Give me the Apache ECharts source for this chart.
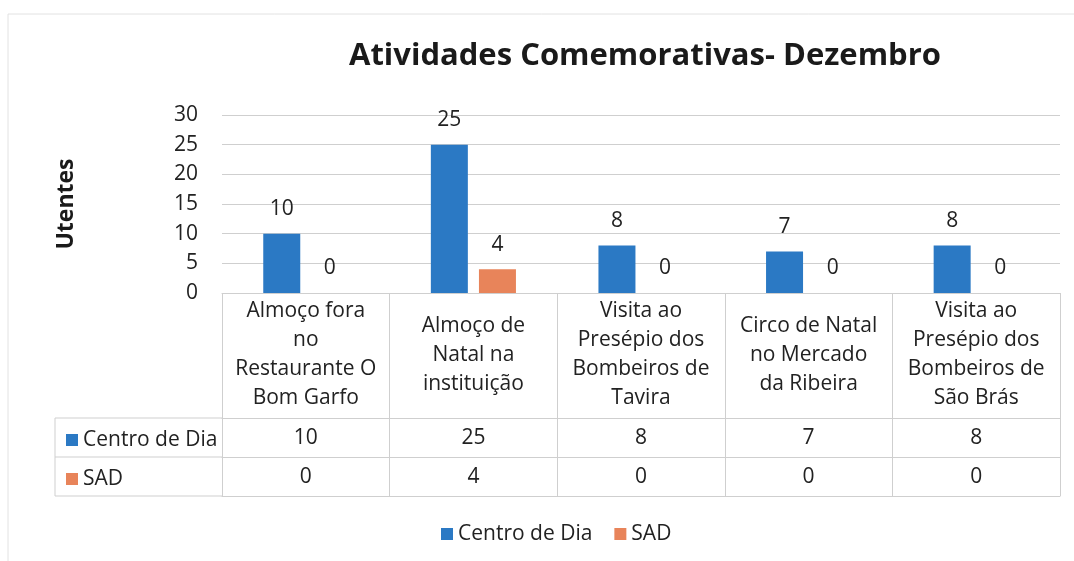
<!DOCTYPE html>
<html>
<head>
<meta charset="utf-8">
<title>Atividades Comemorativas- Dezembro</title>
<script src="https://cdn.jsdelivr.net/npm/echarts@6/dist/echarts.min.js"></script>
<style>
  html, body { margin: 0; padding: 0; background: #fff; }
  #chart { width: 1074px; height: 561px; }
</style>
</head>
<body>
<div id="chart"></div>
<script>
// categorias (com quebras de linha como no Excel)
const categories = [
  'Almoço fora\nno\nRestaurante O\nBom Garfo',
  'Almoço de\nNatal na\ninstituição',
  'Visita ao\nPresépio dos\nBombeiros de\nTavira',
  'Circo de Natal\nno Mercado\nda Ribeira',
  'Visita ao\nPresépio dos\nBombeiros de\nSão Brás'
]
const seriesNames = ['Centro de Dia', 'SAD']
const centroDia = [10, 25, 8, 7, 8]
const sad = [0, 4, 0, 0, 0]
const yTicks = { min: 0, max: 30, interval: 5 }

const BLUE = '#2b79c4'
const ORANGE = '#e8845a'
const LINE = '#cfcfcf'
const FONT = "'Open Sans', 'Noto Sans', sans-serif"
const FS = 21

const chart = echarts.init(document.getElementById('chart'))

// linhas da tabela de dados: um eixo extra por linha
const tableRowAxis = (offset, values) => ({
  type: 'category',
  data: categories,
  gridIndex: 0,
  position: 'bottom',
  offset: offset,
  axisLine: { show: true, lineStyle: { color: LINE, width: 1 } },
  axisTick: { show: false },
  axisLabel: {
    show: values !== null,
    interval: 0,
    margin: 20,
    verticalAlign: 'middle',
    fontFamily: FONT,
    fontSize: FS,
    color: '#222',
    formatter: (v, i) => values ? String(values[i]) : ''
  }
})

const option = {
  animation: false,
  color: [BLUE, ORANGE],
  textStyle: { fontFamily: FONT },
  title: {
    text: 'Atividades Comemorativas- Dezembro',
    left: 344,
    top: 36,
    textStyle: { fontFamily: FONT, fontSize: 31, fontWeight: 'bold', color: '#1a1a1a' }
  },
  legend: [
    {
      data: seriesNames,
      top: 517,
      left: 436,
      icon: 'rect',
      itemWidth: 12,
      itemHeight: 12,
      itemGap: 22,
      selectedMode: false,
      textStyle: { fontFamily: FONT, fontSize: FS, color: '#222', lineHeight: 24 }
    },
    {
      data: seriesNames,
      orient: 'vertical',
      left: 61,
      top: 423,
      icon: 'rect',
      itemWidth: 12,
      itemHeight: 12,
      itemGap: 15,
      selectedMode: false,
      textStyle: { fontFamily: FONT, fontSize: FS, color: '#222', lineHeight: 24 }
    }
  ],
  grid: {
    left: 222,
    right: 14,
    top: 115,
    bottom: 268,
    outerBoundsMode: 'none'
  },
  xAxis: [
    {
      type: 'category',
      data: categories,
      position: 'bottom',
      axisLine: { show: true, lineStyle: { color: LINE, width: 1 } },
      axisTick: { show: true, length: 203, interval: 0, lineStyle: { color: LINE, width: 1 } },
      axisLabel: {
        interval: 0,
        margin: 62,
        verticalAlign: 'middle',
        align: 'center',
        lineHeight: 29,
        fontFamily: FONT,
        fontSize: FS,
        color: '#222'
      }
    },
    tableRowAxis(125, centroDia),
    tableRowAxis(164, sad),
    tableRowAxis(203, null)
  ],
  yAxis: {
    type: 'value',
    min: yTicks.min,
    max: yTicks.max,
    interval: yTicks.interval,
    name: 'Utentes',
    nameLocation: 'middle',
    nameRotate: 90,
    nameGap: 144,
    nameTextStyle: { fontFamily: FONT, fontSize: 23, fontWeight: 'bold', color: '#1a1a1a' },
    axisLine: { show: false },
    axisTick: { show: false },
    axisLabel: { margin: 24, fontFamily: FONT, fontSize: FS, color: '#222' },
    splitLine: { lineStyle: { color: LINE, width: 1 } }
  },
  series: [
    {
      name: seriesNames[0],
      type: 'bar',
      data: centroDia,
      barWidth: 37,
      barGap: '30%',
      label: { show: true, position: 'top', distance: 14, fontFamily: FONT, fontSize: FS, color: '#222' }
    },
    {
      name: seriesNames[1],
      type: 'bar',
      data: sad,
      barWidth: 37,
      label: { show: true, position: 'top', distance: 14, fontFamily: FONT, fontSize: FS, color: '#222' }
    }
  ],
  graphic: [
    // moldura exterior do gráfico
    { type: 'rect', shape: { x: 8, y: 14, width: 1100, height: 600 }, style: { fill: 'none', stroke: '#e2e2e2', lineWidth: 1 } },
    // coluna de legenda da tabela
    { type: 'line', shape: { x1: 55, y1: 418, x2: 222, y2: 418 }, style: { stroke: LINE, lineWidth: 1 } },
    { type: 'line', shape: { x1: 55, y1: 457, x2: 222, y2: 457 }, style: { stroke: LINE, lineWidth: 1 } },
    { type: 'line', shape: { x1: 55, y1: 496, x2: 222, y2: 496 }, style: { stroke: LINE, lineWidth: 1 } },
    { type: 'line', shape: { x1: 55, y1: 418, x2: 55, y2: 496 }, style: { stroke: LINE, lineWidth: 1 } }
  ]
}

chart.setOption(option)
</script>
</body>
</html>
